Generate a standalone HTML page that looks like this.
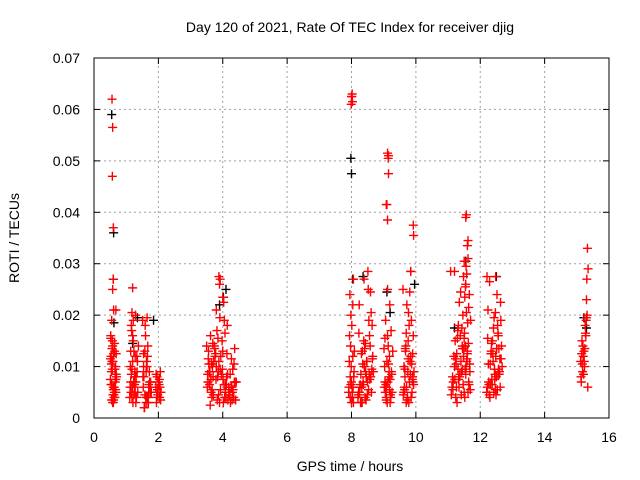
<!DOCTYPE html>
<html><head><meta charset="utf-8"><style>
body{margin:0;background:#fff}
svg{display:block;font-family:"Liberation Sans",sans-serif}
</style></head><body>
<svg id="chart" width="640" height="480" viewBox="0 0 640 480">
<rect width="640" height="480" fill="#fff"/>
<text x="350" y="32" font-size="14" text-anchor="middle" fill="#000">Day 120 of 2021, Rate Of TEC Index for receiver djig</text>
<g id="grid"></g>
<g id="ticks"></g>
<g id="marks"></g>
<rect x="94" y="58" width="515" height="360" fill="none" stroke="#000" stroke-width="1"/>
<text x="350" y="471" font-size="14" text-anchor="middle">GPS time / hours</text>
<text transform="translate(19,238) rotate(-90)" font-size="14" text-anchor="middle">ROTI / TECUs</text>
</svg>
<script>
const xTicks=[0,2,4,6,8,10,12,14,16];
const yTicks=[0,0.01,0.02,0.03,0.04,0.05,0.06,0.07];
const yTickLabels=["0","0.01","0.02","0.03","0.04","0.05","0.06","0.07"];

const aTime=[.52,.62,.56,.66,.58,.68,.54,.64,.6,.70,.53,.63,.57,.67,.59,.69,.55,.65,.61,.51,.6,.52,.66,.56,.62,.54,.68,.58,.64,.53,.57,.67,.61,.55,.69,.59,.63,.51,.65,.6];
const aRoti=[.016,.004,.011,.007,.014,.005,.009,.013,.003,.008,.012,.006,.015,.010,.0045,.0125,.0065,.0095,.0035,.0115,.0055,.0155,.0085,.0135,.0045,.0105,.0075,.003,.0145,.0065,.0095,.0055,.0125,.0035,.0085,.011,.005,.0075,.004,.006];
const bTime=[1.12,1.28,1.18,1.34,1.22,1.14,1.3,1.2,1.36,1.16,1.26,1.24,1.32,1.13,1.19,1.29,1.23,1.38,1.15,1.27,1.21,1.33,1.17,1.25,1.31,1.11,1.35,1.22,1.28,1.14,1.3,1.18,1.24,1.2,1.26,1.16];
const bRoti=[.006,.012,.004,.009,.015,.007,.003,.011,.005,.018,.008,.013,.004,.010,.006,.020,.007,.014,.005,.009,.003,.012,.017,.006,.008,.004,.011,.019,.005,.013,.007,.0095,.0045,.016,.0065,.0085];
const cTime=[1.52,1.68,1.58,1.74,1.62,1.54,1.7,1.6,1.76,1.56,1.66,1.64,1.72,1.53,1.59,1.69,1.63,1.78,1.55,1.67,1.61,1.73,1.57,1.65,1.71,1.51,1.75,1.62,1.68,1.54,1.7,1.58];
const cRoti=[.008,.004,.013,.006,.003,.010,.005,.016,.007,.002,.012,.004,.009,.006,.018,.003,.011,.005,.008,.014,.004,.007,.002,.010,.006,.019,.005,.009,.003,.0125,.0065,.0045];
const dTime=[1.92,2.04,1.96,2.08,1.94,2.0,2.06,1.98,2.02,1.93,2.07,1.97,2.03,1.95,2.05,1.99];
const dRoti=[.006,.004,.008,.005,.003,.007,.009,.0045,.0065,.0085,.0035,.0055,.0075,.004,.006,.005];
const eTime=[3.52,3.88,3.66,4.12,3.74,4.3,3.58,4.02,3.94,4.38,3.62,4.2,3.8,4.06,3.56,4.26,3.7,4.14,3.9,4.42,
3.6,4.08,3.76,4.34,3.54,3.98,4.18,3.68,4.24,3.84,4.0,3.64,4.36,3.72,4.1,3.86,4.28,3.5,4.16,3.96,
3.82,4.22,3.57,4.04,3.78,4.32,3.63,3.92,4.4,3.69,4.11,3.87,4.27,3.53,4.19,3.75,4.01,3.61,4.35,3.99,
3.71,4.07,3.59,4.23,3.83,4.13,3.67,4.31,3.91,4.03,3.79,4.21,3.55,4.09,3.85,4.29,3.65,4.15,3.93,4.37];
const eRoti=[.006,.011,.004,.008,.014,.005,.009,.003,.012,.007,.016,.005,.010,.004,.013,.006,.008,.018,.003,.007,
.009,.005,.012,.004,.007,.015,.006,.010,.003,.008,.013,.005,.007,.011,.004,.009,.006,.014,.0035,.0085,
.017,.0045,.0105,.0065,.0125,.0055,.0075,.0095,.0035,.0145,.0065,.0045,.0115,.0085,.0055,.0135,.0075,.0025,.0105,.0095,
.0045,.0165,.0065,.0085,.0035,.0125,.0055,.0095,.0195,.0225,.0075,.0045,.0115,.0065,.0155,.0035,.0105,.0085,.0055,.0135];
const fTime=[7.92,8.04,7.96,8.08,7.94,8.0,8.06,7.98,8.02,7.93,8.07,7.97,8.03,7.95,8.05,7.99,8.01,7.91,8.09,8.0,7.96,8.04,7.98,8.06];
const fRoti=[.006,.012,.004,.009,.016,.007,.003,.020,.005,.011,.008,.014,.004,.024,.006,.010,.018,.005,.013,.003,.008,.022,.0065,.027];
const gTime=[8.22,8.48,8.3,8.6,8.38,8.26,8.54,8.42,8.68,8.34,8.5,8.24,8.62,8.4,8.28,8.56,8.46,8.66,8.32,8.52,8.2,8.44,8.58,8.36,
8.64,8.25,8.47,8.33,8.55,8.41,8.27,8.61,8.49,8.35,8.57,8.23,8.45,8.63,8.31,8.53,8.39,8.29,8.59,8.43,8.37,8.51,8.65,8.21];
const gRoti=[.005,.011,.003,.008,.015,.006,.019,.004,.009,.013,.007,.022,.005,.010,.003,.016,.008,.012,.006,.025,.004,.009,.014,.007,
.018,.005,.011,.003,.0085,.0135,.0065,.0205,.0045,.0105,.0075,.0165,.0035,.0095,.0125,.0055,.027,.0085,.0245,.0145,.0065,.0285,.0115,.0045];
const hTime=[9.02,9.18,9.08,9.24,9.12,9.04,9.2,9.1,9.26,9.06,9.16,9.14,9.22,9.03,9.09,9.19,9.13,9.28,9.05,9.17,9.11,9.23,9.07,9.15,9.21,9.01,9.25,9.12,9.18,9.04,9.2,9.08];
const hRoti=[.006,.012,.004,.009,.016,.007,.003,.011,.005,.019,.008,.014,.004,.010,.006,.022,.007,.013,.005,.009,.003,.017,.0065,.0105,.0045,.0135,.0085,.025,.0055,.0155,.0075,.0035];
const iTime=[9.62,9.82,9.7,9.9,9.76,9.64,9.86,9.74,9.94,9.68,9.8,9.72,9.88,9.63,9.78,9.92,9.66,9.84,9.71,9.6,9.85,9.75,9.69,9.91,9.79,9.65,9.87,9.73,9.83,9.67,9.93,9.77,9.61,9.81,9.89,9.7,9.76,9.84,9.66,9.9];
const iRoti=[.005,.011,.003,.008,.015,.006,.019,.004,.009,.013,.007,.022,.005,.010,.003,.016,.008,.012,.006,.025,.004,.009,.014,.007,.018,.0055,.0105,.0035,.0085,.0135,.0065,.0205,.0045,.0245,.0075,.0165,.0115,.0285,.0095,.0125];
const jTime=[11.12,11.44,11.24,11.56,11.32,11.64,11.18,11.5,11.38,11.68,11.28,11.6,11.14,11.46,11.34,11.58,11.22,11.52,11.42,11.66,
11.16,11.48,11.3,11.62,11.2,11.54,11.36,11.7,11.26,11.4,11.1,11.45,11.55,11.35,11.65,11.25,11.5,11.15,11.6,11.43,
11.53,11.33,11.63,11.23,11.47,11.57,11.37,11.67,11.27,11.41,11.51,11.31,11.61,11.21,11.49,11.59,11.39,11.69,11.29,11.45,
11.55,11.58,11.62,11.52,11.48,11.6,11.56,11.64,11.5,11.54];
const jRoti=[.006,.014,.004,.010,.018,.007,.012,.005,.016,.009,.003,.013,.008,.020,.006,.011,.015,.004,.009,.024,
.007,.012,.017,.005,.010,.014,.008,.019,.006,.011,.0045,.0135,.0085,.0225,.0065,.0105,.0155,.0055,.0125,.0175,
.0095,.0075,.0145,.0115,.0065,.0205,.0085,.0105,.0125,.0045,.0165,.0095,.0185,.0075,.0135,.0115,.0245,.0055,.0155,.0095,
.026,.028,.031,.0235,.0275,.0335,.0295,.0215,.0305,.0255];
const kTime=[12.22,12.48,12.3,12.6,12.38,12.26,12.54,12.42,12.68,12.34,12.5,12.24,12.62,12.4,12.28,12.56,12.46,12.66,12.32,12.52,12.2,12.44,12.58,12.36,12.64,
12.25,12.47,12.33,12.55,12.41,12.27,12.61,12.49,12.35,12.57,12.23,12.45,12.63,12.31,12.53,12.39,12.29,12.59,12.43,12.37,12.51,12.65,12.21,12.47,12.55];
const kRoti=[.006,.012,.004,.009,.015,.007,.018,.005,.010,.013,.008,.021,.006,.011,.0045,.016,.0085,.014,.0065,.024,.005,.0095,.0135,.0075,.019,
.0105,.0055,.0125,.0085,.0175,.0065,.0115,.0045,.0145,.0095,.0155,.0075,.0225,.0105,.0055,.0125,.0265,.0085,.0195,.0065,.0135,.0115,.0275,.0205,.0165];
const lTime=[15.12,15.28,15.18,15.32,15.22,15.14,15.3,15.2,15.34,15.16,15.26,15.24,15.31,15.13,15.19,15.29,15.23,15.35,15.15,15.27,15.21,15.33,15.17,15.25];
const lRoti=[.011,.016,.009,.020,.013,.007,.023,.012,.006,.015,.018,.010,.027,.008,.014,.019,.011,.029,.0125,.0165,.0085,.033,.0105,.0135];
const outTime=[.56,.58,.57,.6,.61,.68,.58,.6,.55,1.2,1.18,1.65,3.88,3.92,3.9,3.8,4.05,4.0,8.0,8.02,7.99,8.01,8.03,9.12,9.15,9.14,9.15,9.1,9.12,9.08,9.92,9.93,9.84,11.55,11.57,11.08,11.2,11.62,12.48,15.3];
const outRoti=[.062,.0565,.047,.037,.021,.021,.025,.027,.019,.0253,.0205,.0195,.0275,.027,.026,.021,.019,.0235,.0625,.063,.061,.0625,.0615,.0515,.051,.0505,.0475,.0415,.0385,.0415,.0375,.0355,.0285,.039,.0395,.0285,.0285,.0345,.0275,.0195];
const blackTime=[0.55,0.61,0.6,0.62,1.2,1.35,4.02,4.1,7.98,8.0,8.04,8.36,9.1,9.2,9.96,11.55,11.2,12.5,15.22,15.3,1.85,3.9];
const blackRoti=[0.059,0.036,0.027,0.0185,0.0145,0.0195,0.0235,0.025,0.0505,0.0475,0.027,0.0275,0.0245,0.0205,0.026,0.0305,0.0175,0.0275,0.0195,0.0175,0.019,0.022];

const redTime=[].concat(aTime,bTime,cTime,dTime,eTime,fTime,gTime,hTime,iTime,jTime,kTime,lTime,outTime);
const redRoti=[].concat(aRoti,bRoti,cRoti,dRoti,eRoti,fRoti,gRoti,hRoti,iRoti,jRoti,kRoti,lRoti,outRoti);

const X0=94,X1=609,Y0=418,Y1=58;
const xScale=t=>X0+(t-0)/(16-0)*(X1-X0);
const yScale=v=>Y0-(v-0)/(0.07-0)*(Y0-Y1);
const NS="http://www.w3.org/2000/svg";
const grid=document.getElementById('grid'),ticks=document.getElementById('ticks'),marks=document.getElementById('marks');
function mk(tag,attrs,parent){const e=document.createElementNS(NS,tag);for(const k in attrs)e.setAttribute(k,attrs[k]);parent.appendChild(e);return e;}
xTicks.forEach(t=>{
  const x=xScale(t);
  if(t>0&&t<16){const g=mk('line',{x1:x,x2:x,y1:Y0,y2:Y1,stroke:'#a0a0a0','stroke-dasharray':'2,3'},grid);
  
  }
  const a=mk('line',{x1:x,x2:x,y1:Y0,y2:Y0-6,stroke:'#000'},ticks);
  
  
  const b=mk('line',{x1:x,x2:x,y1:Y1,y2:Y1+6,stroke:'#000'},ticks);
  
  
  const l=mk('text',{x:x,y:Y0+24,'font-size':14,'text-anchor':'middle'},ticks);l.textContent=t;
  
  
});
yTicks.forEach((v,i)=>{
  const y=yScale(v);
  if(i>0&&i<yTicks.length-1){const g=mk('line',{x1:X0,x2:X1,y1:y,y2:y,stroke:'#a0a0a0','stroke-dasharray':'2,3'},grid);
  
  }
  const a=mk('line',{x1:X0,x2:X0+6,y1:y,y2:y,stroke:'#000'},ticks);
  
  
  const b=mk('line',{x1:X1,x2:X1-6,y1:y,y2:y,stroke:'#000'},ticks);
  
  
  const l=mk('text',{x:X0-14,y:y+5,'font-size':14,'text-anchor':'end'},ticks);l.textContent=yTickLabels[i];
  
  
});
function cross(t,v,color,name){
  const x=xScale(t),y=yScale(v);
  const p=mk('path',{d:`M${x-4.5},${y}H${x+4.5}M${x},${y-4.5}V${y+4.5}`,stroke:color,'stroke-width':1.4,fill:'none'},marks);
  
  
}
blackTime.forEach((t,i)=>cross(t,blackRoti[i],'#000','roti-point-black'));
redTime.forEach((t,i)=>cross(t,redRoti[i],'#ff0000','roti-point'));
</script>
</body></html>
